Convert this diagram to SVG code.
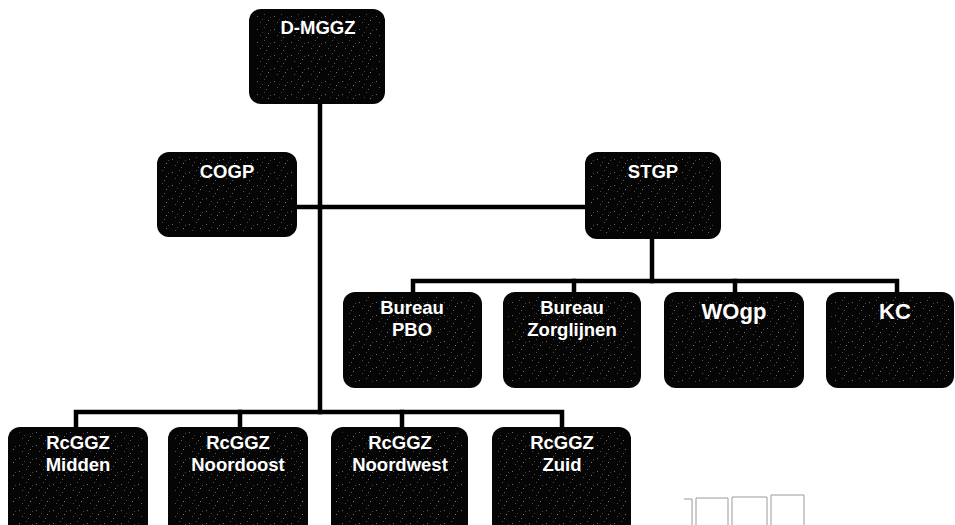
<svg xmlns="http://www.w3.org/2000/svg" width="955" height="525" viewBox="0 0 955 525">
  <defs>
    <pattern id="speckle" width="17" height="13" patternUnits="userSpaceOnUse">
      <rect x="2" y="3" width="1" height="1" fill="#6a6a6a"/>
      <rect x="9" y="1" width="1" height="1" fill="#4a4a4a"/>
      <rect x="13" y="7" width="1" height="1" fill="#7a7a7a"/>
      <rect x="5" y="9" width="1" height="1" fill="#505050"/>
      <rect x="11" y="11" width="1" height="1" fill="#5e5e5e"/>
      <rect x="15" y="4" width="1" height="1" fill="#444"/>
      <rect x="7" y="6" width="1" height="1" fill="#3c3c3c"/>
    </pattern>
  </defs>
  <style>
    .box { fill: #050505; }
    .tex { fill: url(#speckle); }
    .lbl { font-family: "Liberation Sans", Arial, sans-serif; font-weight: bold; font-size: 18.5px; fill: #ffffff; text-anchor: middle; }
    .big { font-size: 22px; }
    .conn { stroke: #000; stroke-width: 4.5; fill: none; stroke-linecap: square; }
    .ghost { stroke: #9a9a9a; stroke-width: 1; fill: none; }
  </style>
  <rect width="955" height="525" fill="#ffffff"/>

  <g id="connectors">
    <line class="conn" x1="320" y1="100" x2="320" y2="412"/>
    <line class="conn" x1="295" y1="207" x2="588" y2="207"/>
    <line class="conn" x1="652" y1="236" x2="652" y2="281"/>
    <polyline class="conn" points="413,294 413,281 897,281 897,294"/>
    <line class="conn" x1="574" y1="281" x2="574" y2="294"/>
    <line class="conn" x1="735" y1="281" x2="735" y2="294"/>
    <polyline class="conn" points="76,429 76,412 562,412 562,429"/>
    <line class="conn" x1="240" y1="412" x2="240" y2="429"/>
    <line class="conn" x1="402" y1="412" x2="402" y2="429"/>
  </g>

  <g id="node-dmggz">
    <rect class="box" x="249" y="9" width="136" height="95" rx="12"/>
    <rect class="tex" x="254" y="14" width="126" height="85" rx="9"/>
    <text class="lbl" x="318" y="34">D-MGGZ</text>
  </g>
  <g id="node-cogp">
    <rect class="box" x="157" y="152" width="140" height="85" rx="12"/>
    <rect class="tex" x="162" y="157" width="130" height="75" rx="9"/>
    <text class="lbl" x="227" y="178">COGP</text>
  </g>
  <g id="node-stgp">
    <rect class="box" x="585" y="152" width="136" height="87" rx="12"/>
    <rect class="tex" x="590" y="157" width="126" height="77" rx="9"/>
    <text class="lbl" x="653" y="178">STGP</text>
  </g>
  <g id="node-bureau-pbo">
    <rect class="box" x="343" y="292" width="139" height="96" rx="12"/>
    <rect class="tex" x="348" y="297" width="129" height="86" rx="9"/>
    <text class="lbl" x="412" y="314">Bureau</text>
    <text class="lbl" x="412" y="336">PBO</text>
  </g>
  <g id="node-bureau-zorglijnen">
    <rect class="box" x="503" y="292" width="138" height="96" rx="12"/>
    <rect class="tex" x="508" y="297" width="128" height="86" rx="9"/>
    <text class="lbl" x="572" y="314">Bureau</text>
    <text class="lbl" x="572" y="336">Zorglijnen</text>
  </g>
  <g id="node-wogp">
    <rect class="box" x="664" y="292" width="140" height="96" rx="12"/>
    <rect class="tex" x="669" y="297" width="130" height="86" rx="9"/>
    <text class="lbl big" x="734" y="319">WOgp</text>
  </g>
  <g id="node-kc">
    <rect class="box" x="826" y="292" width="128" height="96" rx="12"/>
    <rect class="tex" x="831" y="297" width="118" height="86" rx="9"/>
    <text class="lbl big" x="895" y="319">KC</text>
  </g>
  <g id="node-rcggz-midden">
    <rect class="box" x="8" y="427" width="140" height="110" rx="12"/>
    <rect class="tex" x="13" y="432" width="130" height="93" rx="9"/>
    <text class="lbl" x="78" y="449">RcGGZ</text>
    <text class="lbl" x="78" y="471">Midden</text>
  </g>
  <g id="node-rcggz-noordoost">
    <rect class="box" x="168" y="427" width="140" height="110" rx="12"/>
    <rect class="tex" x="173" y="432" width="130" height="93" rx="9"/>
    <text class="lbl" x="238" y="449">RcGGZ</text>
    <text class="lbl" x="238" y="471">Noordoost</text>
  </g>
  <g id="node-rcggz-noordwest">
    <rect class="box" x="331" y="427" width="137" height="110" rx="12"/>
    <rect class="tex" x="336" y="432" width="127" height="93" rx="9"/>
    <text class="lbl" x="400" y="449">RcGGZ</text>
    <text class="lbl" x="400" y="471">Noordwest</text>
  </g>
  <g id="node-rcggz-zuid">
    <rect class="box" x="492" y="427" width="139" height="110" rx="12"/>
    <rect class="tex" x="497" y="432" width="129" height="93" rx="9"/>
    <text class="lbl" x="562" y="449">RcGGZ</text>
    <text class="lbl" x="562" y="471">Zuid</text>
  </g>

  <g id="scan-marks">
    <path class="ghost" d="M684,499 H692 V525 M696,525 V498 H728 V525 M732,525 V497 H767 V525 M771,525 V495 H804 V525"/>
  </g>
</svg>
